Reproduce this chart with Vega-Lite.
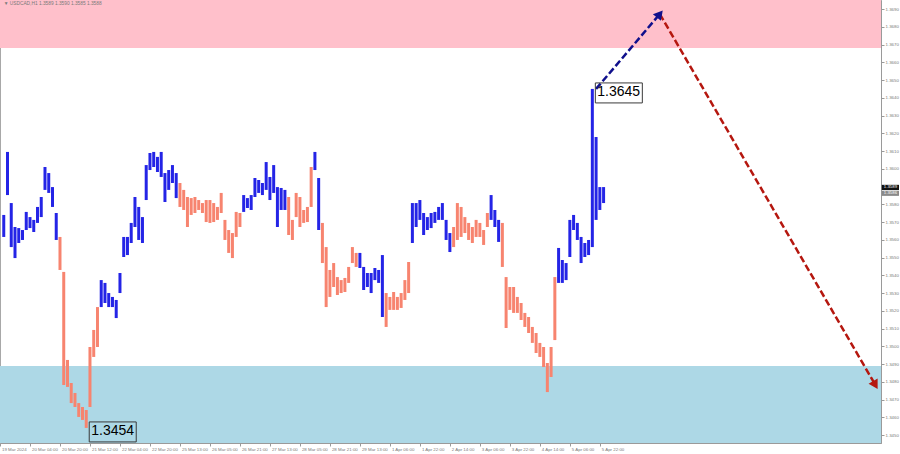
{
  "$schema": "https://vega.github.io/schema/vega-lite/v6.json",
  "width": 881,
  "height": 443,
  "autosize": "none",
  "padding": {"left": 0, "top": 0, "right": 19, "bottom": 11},
  "background": "white",
  "config": {
    "view": {"stroke": "#a8a8a8", "strokeWidth": 1},
    "axis": {"grid": false, "domainColor": "#9a9a9a", "tickColor": "#9a9a9a", "labelColor": "#7a7a7a", "labelFont": "Liberation Sans", "labelFontSize": 4.4, "tickSize": 3, "labelOverlap": false, "labelBound": false, "labelFlush": false}
  },
  "datasets": {
    "zones": [
      {"zone": "sell", "from": 1.36681, "to": 1.3700},
      {"zone": "buy", "from": 1.3440, "to": 1.34889}
    ],
    "bars": [
      {"t":2,"lo":1.35616,"hi":1.35740,"w":"u"},{"t":4,"lo":1.35852,"hi":1.36095,"w":"u"},{"t":6,"lo":1.35559,"hi":1.35807,"w":"u"},{"t":8,"lo":1.35497,"hi":1.35672,"w":"u"},
      {"t":10,"lo":1.35582,"hi":1.35666,"w":"u"},{"t":12,"lo":1.35599,"hi":1.35655,"w":"u"},{"t":14,"lo":1.35655,"hi":1.35757,"w":"u"},{"t":16,"lo":1.35666,"hi":1.35728,"w":"u"},
      {"t":18,"lo":1.35644,"hi":1.35712,"w":"u"},{"t":20,"lo":1.35695,"hi":1.35785,"w":"u"},{"t":22,"lo":1.35728,"hi":1.35841,"w":"u"},{"t":24,"lo":1.35881,"hi":1.36010,"w":"u"},
      {"t":26,"lo":1.35864,"hi":1.35976,"w":"u"},{"t":28,"lo":1.35785,"hi":1.35897,"w":"u"},{"t":30,"lo":1.35599,"hi":1.35751,"w":"u"},{"t":32,"lo":1.35430,"hi":1.35616,"w":"d"},
      {"t":34,"lo":1.34782,"hi":1.35419,"w":"d"},{"t":36,"lo":1.34771,"hi":1.34923,"w":"d"},{"t":38,"lo":1.34680,"hi":1.34793,"w":"d"},{"t":40,"lo":1.34658,"hi":1.34737,"w":"d"},
      {"t":42,"lo":1.34602,"hi":1.34680,"w":"d"},{"t":44,"lo":1.34585,"hi":1.34658,"w":"d"},{"t":46,"lo":1.34540,"hi":1.34641,"w":"d"},{"t":48,"lo":1.34658,"hi":1.34996,"w":"d"},
      {"t":50,"lo":1.34940,"hi":1.35092,"w":"d"},{"t":52,"lo":1.34996,"hi":1.35221,"w":"d"},{"t":54,"lo":1.35221,"hi":1.35373,"w":"u"},{"t":56,"lo":1.35244,"hi":1.35357,"w":"u"},
      {"t":58,"lo":1.35221,"hi":1.35300,"w":"u"},{"t":60,"lo":1.35221,"hi":1.35278,"w":"u"},{"t":62,"lo":1.35159,"hi":1.35261,"w":"u"},{"t":64,"lo":1.35300,"hi":1.35413,"w":"u"},
      {"t":66,"lo":1.35503,"hi":1.35616,"w":"u"},{"t":68,"lo":1.35514,"hi":1.35616,"w":"u"},{"t":70,"lo":1.35582,"hi":1.35695,"w":"u"},{"t":72,"lo":1.35672,"hi":1.35841,"w":"u"},
      {"t":74,"lo":1.35599,"hi":1.35785,"w":"u"},{"t":76,"lo":1.35582,"hi":1.35728,"w":"u"},{"t":78,"lo":1.35824,"hi":1.36021,"w":"u"},{"t":80,"lo":1.35993,"hi":1.36089,"w":"u"},
      {"t":82,"lo":1.36010,"hi":1.36095,"w":"u"},{"t":84,"lo":1.35982,"hi":1.36067,"w":"u"},{"t":86,"lo":1.35954,"hi":1.36095,"w":"u"},{"t":88,"lo":1.35813,"hi":1.35976,"w":"u"},
      {"t":90,"lo":1.35881,"hi":1.35993,"w":"u"},{"t":92,"lo":1.35920,"hi":1.36021,"w":"u"},{"t":94,"lo":1.35835,"hi":1.35976,"w":"u"},{"t":96,"lo":1.35785,"hi":1.35920,"w":"d"},
      {"t":98,"lo":1.35768,"hi":1.35881,"w":"d"},{"t":100,"lo":1.35672,"hi":1.35841,"w":"d"},{"t":102,"lo":1.35740,"hi":1.35835,"w":"d"},{"t":104,"lo":1.35751,"hi":1.35841,"w":"d"},
      {"t":106,"lo":1.35768,"hi":1.35824,"w":"d"},{"t":108,"lo":1.35751,"hi":1.35807,"w":"d"},{"t":110,"lo":1.35700,"hi":1.35824,"w":"d"},{"t":112,"lo":1.35695,"hi":1.35824,"w":"d"},
      {"t":114,"lo":1.35700,"hi":1.35807,"w":"d"},{"t":116,"lo":1.35712,"hi":1.35785,"w":"d"},{"t":118,"lo":1.35751,"hi":1.35864,"w":"d"},{"t":120,"lo":1.35599,"hi":1.35712,"w":"d"},
      {"t":122,"lo":1.35526,"hi":1.35655,"w":"d"},{"t":124,"lo":1.35497,"hi":1.35638,"w":"d"},{"t":126,"lo":1.35616,"hi":1.35757,"w":"d"},{"t":128,"lo":1.35672,"hi":1.35751,"w":"d"},
      {"t":130,"lo":1.35757,"hi":1.35852,"w":"u"},{"t":132,"lo":1.35779,"hi":1.35835,"w":"u"},{"t":134,"lo":1.35768,"hi":1.35852,"w":"u"},{"t":136,"lo":1.35841,"hi":1.35948,"w":"u"},
      {"t":138,"lo":1.35864,"hi":1.35937,"w":"u"},{"t":140,"lo":1.35852,"hi":1.35920,"w":"u"},{"t":142,"lo":1.35881,"hi":1.36038,"w":"u"},{"t":144,"lo":1.35824,"hi":1.35954,"w":"u"},
      {"t":146,"lo":1.35864,"hi":1.36021,"w":"u"},{"t":148,"lo":1.35672,"hi":1.35897,"w":"u"},{"t":150,"lo":1.35768,"hi":1.35892,"w":"u"},{"t":152,"lo":1.35768,"hi":1.35881,"w":"u"},
      {"t":154,"lo":1.35627,"hi":1.35841,"w":"d"},{"t":156,"lo":1.35599,"hi":1.35712,"w":"d"},{"t":158,"lo":1.35728,"hi":1.35864,"w":"d"},{"t":160,"lo":1.35672,"hi":1.35841,"w":"d"},
      {"t":162,"lo":1.35695,"hi":1.35768,"w":"d"},{"t":164,"lo":1.35700,"hi":1.35785,"w":"d"},{"t":166,"lo":1.35785,"hi":1.36010,"w":"d"},{"t":168,"lo":1.35993,"hi":1.36095,"w":"u"},
      {"t":170,"lo":1.35655,"hi":1.35948,"w":"u"},{"t":172,"lo":1.35469,"hi":1.35695,"w":"d"},{"t":174,"lo":1.35221,"hi":1.35559,"w":"d"},{"t":176,"lo":1.35278,"hi":1.35430,"w":"d"},
      {"t":178,"lo":1.35334,"hi":1.35469,"w":"d"},{"t":180,"lo":1.35289,"hi":1.35390,"w":"d"},{"t":182,"lo":1.35300,"hi":1.35373,"w":"d"},{"t":184,"lo":1.35306,"hi":1.35385,"w":"d"},
      {"t":186,"lo":1.35357,"hi":1.35447,"w":"d"},{"t":188,"lo":1.35469,"hi":1.35559,"w":"d"},{"t":190,"lo":1.35447,"hi":1.35526,"w":"d"},{"t":192,"lo":1.35441,"hi":1.35526,"w":"u"},
      {"t":194,"lo":1.35317,"hi":1.35447,"w":"u"},{"t":196,"lo":1.35334,"hi":1.35413,"w":"u"},{"t":198,"lo":1.35300,"hi":1.35413,"w":"u"},{"t":200,"lo":1.35373,"hi":1.35441,"w":"u"},
      {"t":202,"lo":1.35357,"hi":1.35430,"w":"u"},{"t":204,"lo":1.35165,"hi":1.35514,"w":"u"},{"t":206,"lo":1.35109,"hi":1.35300,"w":"d"},{"t":208,"lo":1.35205,"hi":1.35278,"w":"d"},
      {"t":210,"lo":1.35205,"hi":1.35306,"w":"d"},{"t":212,"lo":1.35205,"hi":1.35278,"w":"d"},{"t":214,"lo":1.35216,"hi":1.35300,"w":"d"},{"t":216,"lo":1.35261,"hi":1.35373,"w":"d"},
      {"t":218,"lo":1.35300,"hi":1.35475,"w":"d"},{"t":220,"lo":1.35582,"hi":1.35807,"w":"u"},{"t":222,"lo":1.35672,"hi":1.35807,"w":"u"},{"t":224,"lo":1.35712,"hi":1.35824,"w":"u"},
      {"t":226,"lo":1.35627,"hi":1.35751,"w":"u"},{"t":228,"lo":1.35655,"hi":1.35728,"w":"u"},{"t":230,"lo":1.35666,"hi":1.35751,"w":"u"},{"t":232,"lo":1.35695,"hi":1.35757,"w":"u"},
      {"t":234,"lo":1.35712,"hi":1.35785,"w":"u"},{"t":236,"lo":1.35712,"hi":1.35807,"w":"u"},{"t":238,"lo":1.35599,"hi":1.35712,"w":"u"},{"t":240,"lo":1.35531,"hi":1.35638,"w":"u"},
      {"t":242,"lo":1.35559,"hi":1.35672,"w":"d"},{"t":244,"lo":1.35599,"hi":1.35807,"w":"d"},{"t":246,"lo":1.35616,"hi":1.35785,"w":"d"},{"t":248,"lo":1.35638,"hi":1.35728,"w":"d"},
      {"t":250,"lo":1.35599,"hi":1.35695,"w":"d"},{"t":252,"lo":1.35582,"hi":1.35672,"w":"d"},{"t":254,"lo":1.35616,"hi":1.35712,"w":"d"},{"t":256,"lo":1.35616,"hi":1.35695,"w":"d"},
      {"t":258,"lo":1.35571,"hi":1.35655,"w":"d"},{"t":260,"lo":1.35672,"hi":1.35751,"w":"d"},{"t":262,"lo":1.35712,"hi":1.35852,"w":"u"},{"t":264,"lo":1.35672,"hi":1.35768,"w":"u"},
      {"t":266,"lo":1.35588,"hi":1.35712,"w":"u"},{"t":268,"lo":1.35447,"hi":1.35695,"w":"d"},{"t":270,"lo":1.35103,"hi":1.35390,"w":"d"},{"t":272,"lo":1.35205,"hi":1.35334,"w":"d"},
      {"t":274,"lo":1.35188,"hi":1.35334,"w":"d"},{"t":276,"lo":1.35188,"hi":1.35278,"w":"d"},{"t":278,"lo":1.35148,"hi":1.35244,"w":"d"},{"t":280,"lo":1.35109,"hi":1.35188,"w":"d"},
      {"t":282,"lo":1.35075,"hi":1.35165,"w":"d"},{"t":284,"lo":1.35019,"hi":1.35109,"w":"d"},{"t":286,"lo":1.34962,"hi":1.35075,"w":"d"},{"t":288,"lo":1.34940,"hi":1.35019,"w":"d"},
      {"t":290,"lo":1.34883,"hi":1.34996,"w":"d"},{"t":292,"lo":1.34742,"hi":1.34906,"w":"d"},{"t":294,"lo":1.34827,"hi":1.34996,"w":"d"},{"t":296,"lo":1.35035,"hi":1.35390,"w":"d"},
      {"t":298,"lo":1.35357,"hi":1.35554,"w":"u"},{"t":300,"lo":1.35357,"hi":1.35486,"w":"u"},{"t":302,"lo":1.35373,"hi":1.35469,"w":"u"},{"t":304,"lo":1.35503,"hi":1.35712,"w":"u"},
      {"t":306,"lo":1.35655,"hi":1.35740,"w":"u"},{"t":308,"lo":1.35599,"hi":1.35695,"w":"u"},{"t":310,"lo":1.35469,"hi":1.35616,"w":"u"},{"t":312,"lo":1.35503,"hi":1.35582,"w":"u"},
      {"t":314,"lo":1.35514,"hi":1.35599,"w":"u"},{"t":316,"lo":1.35559,"hi":1.36450,"w":"u"},{"t":318,"lo":1.35712,"hi":1.36179,"w":"u"},{"t":320,"lo":1.35768,"hi":1.35897,"w":"u"},
      {"t":322,"lo":1.35807,"hi":1.35897,"w":"u"}
    ],
    "arrows": [
      {"a": "up", "t": 318, "p": 1.3645},
      {"a": "up", "t": 352, "p": 1.36872},
      {"a": "down", "t": 352, "p": 1.36872},
      {"a": "down", "t": 467, "p": 1.34782}
    ],
    "tips": [
      {"a": "up", "t": 352, "p": 1.36872},
      {"a": "down", "t": 467, "p": 1.34782}
    ],
    "labels": [
      {"t": 316, "p": 1.3645, "txt": "1.3645"},
      {"t": 46, "p": 1.3454, "txt": "1.3454"}
    ],
    "header": [
      {"t": 2, "p": 1.3693, "txt": "▼ USDCAD,H1  1.3589 1.3590 1.3585 1.3588"}
    ],
    "tags": [
      {"k": "bid", "t": 470.2, "p": 1.35895, "txt": "1.3589"},
      {"k": "ask", "t": 470.2, "p": 1.35862, "txt": "1.3586"}
    ]
  },
  "layer": [
    {
      "data": {"name": "zones"},
      "mark": {"type": "rect", "clip": true},
      "encoding": {
        "y": {"field": "from", "type": "quantitative", "scale": {"domain": [1.344551, 1.36951], "nice": false, "zero": false},
              "axis": {"orient": "right", "title": null, "format": ".4f", "labelPadding": 1, "labelOverlap": false, "labelBound": false, "labelFlush": false, "tickCount": 40,
                       "values": [1.345,1.346,1.347,1.348,1.349,1.350,1.351,1.352,1.353,1.354,1.355,1.356,1.357,1.358,1.359,1.360,1.361,1.362,1.363,1.364,1.365,1.366,1.367,1.368,1.369]}},
        "y2": {"field": "to"},
        "fill": {"field": "zone", "type": "nominal", "scale": {"domain": ["sell", "buy"], "range": ["#FFC0CB", "#ADD8E6"]}, "legend": null}
      }
    },
    {
      "data": {"name": "bars"},
      "mark": {"type": "rule", "strokeWidth": 3, "strokeCap": "butt"},
      "encoding": {
        "x": {"field": "t", "type": "quantitative", "scale": {"domain": [0, 470], "nice": false, "zero": false},
              "axis": {"title": null, "values": [0,16,32,48,64,80,96,112,128,144,160,176,192,208,224,240,256,272,288,304,320], "tickCount": 40,
                       "labelAlign": "left", "labelOffset": 1.5, "labelPadding": 1, "labelOverlap": false, "labelBound": false, "labelFlush": false,
                       "labelExpr": "['19 Mar 2024','20 Mar 04:00','20 Mar 20:00','21 Mar 12:00','22 Mar 04:00','22 Mar 20:00','25 Mar 13:00','26 Mar 05:00','26 Mar 21:00','27 Mar 13:00','28 Mar 05:00','28 Mar 21:00','29 Mar 13:00','1 Apr 06:00','1 Apr 22:00','2 Apr 14:00','3 Apr 06:00','3 Apr 22:00','4 Apr 14:00','5 Apr 06:00','5 Apr 22:00'][round(datum.value/16)]"}},
        "y": {"field": "lo", "type": "quantitative", "title": null},
        "y2": {"field": "hi"},
        "stroke": {"field": "w", "type": "nominal", "scale": {"domain": ["u", "d"], "range": ["#2424E6", "#F7846F"]}, "legend": null}
      }
    },
    {
      "data": {"name": "arrows"},
      "transform": [{"filter": "datum.a == 'up'"}],
      "mark": {"type": "line", "color": "#10108C", "strokeWidth": 2.5, "strokeDash": [7, 3]},
      "encoding": {
        "x": {"field": "t", "type": "quantitative"},
        "y": {"field": "p", "type": "quantitative"}
      }
    },
    {
      "data": {"name": "arrows"},
      "transform": [{"filter": "datum.a == 'down'"}],
      "mark": {"type": "line", "color": "#B5170F", "strokeWidth": 2.5, "strokeDash": [7, 3]},
      "encoding": {
        "x": {"field": "t", "type": "quantitative"},
        "y": {"field": "p", "type": "quantitative"}
      }
    },
    {
      "data": {"name": "tips"},
      "transform": [{"filter": "datum.a == 'up'"}],
      "mark": {"type": "point", "shape": "triangle-up", "filled": true, "color": "#10108C", "size": 110, "angle": 40, "opacity": 1},
      "encoding": {
        "x": {"field": "t", "type": "quantitative"},
        "y": {"field": "p", "type": "quantitative"}
      }
    },
    {
      "data": {"name": "tips"},
      "transform": [{"filter": "datum.a == 'down'"}],
      "mark": {"type": "point", "shape": "triangle-up", "filled": true, "color": "#B5170F", "size": 110, "angle": 150, "opacity": 1},
      "encoding": {
        "x": {"field": "t", "type": "quantitative"},
        "y": {"field": "p", "type": "quantitative"}
      }
    },
    {
      "data": {"name": "labels"},
      "mark": {"type": "point", "shape": "M0.6,-1.2L10,-1.2L10,2.8L0.6,2.8Z", "filled": false, "color": "#3a3a3a", "strokeWidth": 1, "size": 100, "opacity": 1},
      "encoding": {
        "x": {"field": "t", "type": "quantitative"},
        "y": {"field": "p", "type": "quantitative"}
      }
    },
    {
      "data": {"name": "labels"},
      "mark": {"type": "text", "align": "left", "baseline": "middle", "dx": 5, "dy": 3.5, "font": "Liberation Sans", "fontSize": 14, "color": "#000000"},
      "encoding": {
        "x": {"field": "t", "type": "quantitative"},
        "y": {"field": "p", "type": "quantitative"},
        "text": {"field": "txt"}
      }
    },
    {
      "data": {"name": "header"},
      "mark": {"type": "text", "align": "left", "baseline": "middle", "font": "Liberation Sans", "fontSize": 4.8, "color": "#7a7a7a"},
      "encoding": {
        "x": {"field": "t", "type": "quantitative"},
        "y": {"field": "p", "type": "quantitative"},
        "text": {"field": "txt"}
      }
    },
    {
      "data": {"name": "tags"},
      "transform": [{"filter": "datum.k == 'bid'"}],
      "mark": {"type": "point", "shape": "M0.2,-1.3L8.8,-1.3L8.8,1.3L0.2,1.3Z", "filled": true, "color": "#111111", "size": 16, "opacity": 1},
      "encoding": {
        "x": {"field": "t", "type": "quantitative"},
        "y": {"field": "p", "type": "quantitative"}
      }
    },
    {
      "data": {"name": "tags"},
      "transform": [{"filter": "datum.k == 'ask'"}],
      "mark": {"type": "point", "shape": "M0.2,-1.3L8.8,-1.3L8.8,1.3L0.2,1.3Z", "filled": true, "color": "#8a8a8a", "size": 16, "opacity": 1},
      "encoding": {
        "x": {"field": "t", "type": "quantitative"},
        "y": {"field": "p", "type": "quantitative"}
      }
    },
    {
      "data": {"name": "tags"},
      "mark": {"type": "text", "align": "left", "baseline": "middle", "dx": 2.5, "font": "Liberation Sans", "fontSize": 4.3, "color": "#ffffff"},
      "encoding": {
        "x": {"field": "t", "type": "quantitative"},
        "y": {"field": "p", "type": "quantitative"},
        "text": {"field": "txt"}
      }
    }
  ]
}
